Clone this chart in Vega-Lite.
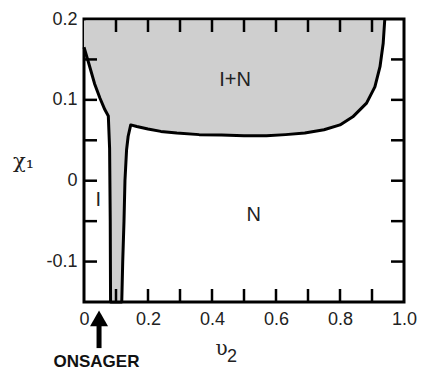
{
  "$schema": "https://vega.github.io/schema/vega-lite/v6.json",
  "width": 320,
  "height": 283,
  "autosize": {"type": "none"},
  "padding": {"left": 84, "top": 19, "right": 21, "bottom": 68},
  "background": "white",
  "config": {
    "view": {"stroke": "black", "strokeWidth": 3},
    "axis": {
      "domain": false,
      "ticks": false,
      "grid": false,
      "zindex": 1,
      "labelFont": "Liberation Sans",
      "labelFontSize": 18,
      "labelColor": "#222",
      "labelFlush": false,
      "labelOverlap": false,
      "titleFont": "DejaVu Serif",
      "titleFontWeight": "normal",
      "titleColor": "#222"
    }
  },
  "datasets": {
    "boundary": [
      {"x": 0.0, "y": 0.165},
      {"x": 0.015, "y": 0.145},
      {"x": 0.033, "y": 0.12},
      {"x": 0.05, "y": 0.102},
      {"x": 0.065, "y": 0.088},
      {"x": 0.076, "y": 0.08},
      {"x": 0.08, "y": 0.04},
      {"x": 0.082, "y": -0.05},
      {"x": 0.083, "y": -0.15},
      {"x": 0.118, "y": -0.15},
      {"x": 0.121, "y": -0.1},
      {"x": 0.125, "y": -0.05},
      {"x": 0.128, "y": 0.0},
      {"x": 0.133, "y": 0.038},
      {"x": 0.138, "y": 0.055},
      {"x": 0.146, "y": 0.069},
      {"x": 0.165, "y": 0.067},
      {"x": 0.2, "y": 0.064},
      {"x": 0.24, "y": 0.061},
      {"x": 0.29, "y": 0.059},
      {"x": 0.36, "y": 0.057},
      {"x": 0.43, "y": 0.0565},
      {"x": 0.5, "y": 0.0555},
      {"x": 0.57, "y": 0.0555},
      {"x": 0.63, "y": 0.057},
      {"x": 0.69, "y": 0.059},
      {"x": 0.75, "y": 0.063},
      {"x": 0.8, "y": 0.069},
      {"x": 0.84, "y": 0.079},
      {"x": 0.883, "y": 0.096},
      {"x": 0.909, "y": 0.116},
      {"x": 0.925, "y": 0.141},
      {"x": 0.935, "y": 0.17},
      {"x": 0.94, "y": 0.2}
    ],
    "xticks": [{"v": 0.1}, {"v": 0.2}, {"v": 0.3}, {"v": 0.4}, {"v": 0.5}, {"v": 0.6}, {"v": 0.7}, {"v": 0.8}, {"v": 0.9}],
    "yticks": [{"v": -0.1}, {"v": -0.05}, {"v": 0}, {"v": 0.05}, {"v": 0.1}, {"v": 0.15}],
    "regions": [
      {"label": "I+N", "x": 0.472, "y": 0.125},
      {"label": "N", "x": 0.53, "y": -0.043},
      {"label": "I", "x": 0.045, "y": -0.024}
    ],
    "subscript": [{"label": "2", "x": 0.4625, "y": -0.2186}],
    "arrow": [{"x": 0.047, "y": -0.207, "y2": -0.174}],
    "tip": [{"x": 0.047, "y": -0.1703}],
    "note": [{"label": "ONSAGER", "x": 0.039, "y": -0.231}]
  },
  "layer": [
    {
      "data": {"name": "boundary"},
      "mark": {"type": "area", "fill": "#cfcfcf", "stroke": null},
      "encoding": {
        "x": {
          "field": "x", "type": "quantitative",
          "scale": {"domain": [0, 1], "nice": false, "zero": false},
          "axis": {
            "orient": "bottom",
            "values": [0, 0.2, 0.4, 0.6, 0.8, 1.0],
            "labelExpr": "datum.value == 0 ? '0' : format(datum.value, '.1f')",
            "labelPadding": 8,
            "title": "υ",
            "titleFontSize": 20,
            "titleAngle": 0,
            "titleAlign": "center",
            "titleBaseline": "middle",
            "titleX": 137,
            "titleY": 46
          }
        },
        "y": {
          "field": "y", "type": "quantitative",
          "scale": {"domain": [-0.15, 0.2], "nice": false, "zero": false},
          "axis": {
            "orient": "left",
            "values": [-0.1, 0, 0.1, 0.2],
            "labelExpr": "datum.value == 0 ? '0' : (datum.value < 0 ? '-' + format(-datum.value, '.1f') : format(datum.value, '.1f'))",
            "labelPadding": 7,
            "title": "χ₁",
            "titleFontSize": 21,
            "titleAngle": 0,
            "titleAlign": "center",
            "titleBaseline": "middle",
            "titleX": -61,
            "titleY": 142
          }
        },
        "y2": {"datum": 0.198}
      }
    },
    {
      "data": {"name": "boundary"},
      "mark": {"type": "line", "stroke": "black", "strokeWidth": 3, "strokeJoin": "round"},
      "encoding": {
        "x": {"field": "x", "type": "quantitative"},
        "y": {"field": "y", "type": "quantitative"}
      }
    },
    {
      "data": {"name": "xticks"},
      "mark": {"type": "rule", "stroke": "black", "strokeWidth": 2.5},
      "encoding": {
        "x": {"field": "v", "type": "quantitative"},
        "y": {"datum": -0.15},
        "y2": {"datum": -0.1339}
      }
    },
    {
      "data": {"name": "xticks"},
      "mark": {"type": "rule", "stroke": "black", "strokeWidth": 2.5},
      "encoding": {
        "x": {"field": "v", "type": "quantitative"},
        "y": {"datum": 0.2},
        "y2": {"datum": 0.1839}
      }
    },
    {
      "data": {"name": "yticks"},
      "mark": {"type": "rule", "stroke": "black", "strokeWidth": 2.5},
      "encoding": {
        "y": {"field": "v", "type": "quantitative"},
        "x": {"datum": 0},
        "x2": {"datum": 0.0406}
      }
    },
    {
      "data": {"name": "yticks"},
      "mark": {"type": "rule", "stroke": "black", "strokeWidth": 2.5},
      "encoding": {
        "y": {"field": "v", "type": "quantitative"},
        "x": {"datum": 1},
        "x2": {"datum": 0.9594}
      }
    },
    {
      "data": {"name": "regions"},
      "mark": {"type": "text", "font": "Liberation Sans", "fontSize": 20, "color": "#222", "align": "center", "baseline": "middle"},
      "encoding": {
        "x": {"field": "x", "type": "quantitative"},
        "y": {"field": "y", "type": "quantitative"},
        "text": {"field": "label"}
      }
    },
    {
      "data": {"name": "arrow"},
      "mark": {"type": "rule", "stroke": "black", "strokeWidth": 5},
      "encoding": {
        "x": {"field": "x", "type": "quantitative"},
        "y": {"field": "y", "type": "quantitative"},
        "y2": {"field": "y2"}
      }
    },
    {
      "data": {"name": "tip"},
      "mark": {"type": "point", "shape": "triangle-up", "filled": true, "fill": "black", "stroke": null, "size": 324, "opacity": 1},
      "encoding": {
        "x": {"field": "x", "type": "quantitative"},
        "y": {"field": "y", "type": "quantitative"}
      }
    },
    {
      "data": {"name": "note"},
      "mark": {"type": "text", "font": "Liberation Sans", "fontSize": 17, "fontWeight": "bold", "color": "#111", "align": "center", "baseline": "alphabetic"},
      "encoding": {
        "x": {"field": "x", "type": "quantitative"},
        "y": {"field": "y", "type": "quantitative"},
        "text": {"field": "label"}
      }
    },
    {
      "data": {"name": "subscript"},
      "mark": {"type": "text", "font": "Liberation Sans", "fontSize": 18, "color": "#222", "align": "center", "baseline": "middle"},
      "encoding": {
        "x": {"field": "x", "type": "quantitative"},
        "y": {"field": "y", "type": "quantitative"},
        "text": {"field": "label"}
      }
    }
  ]
}
